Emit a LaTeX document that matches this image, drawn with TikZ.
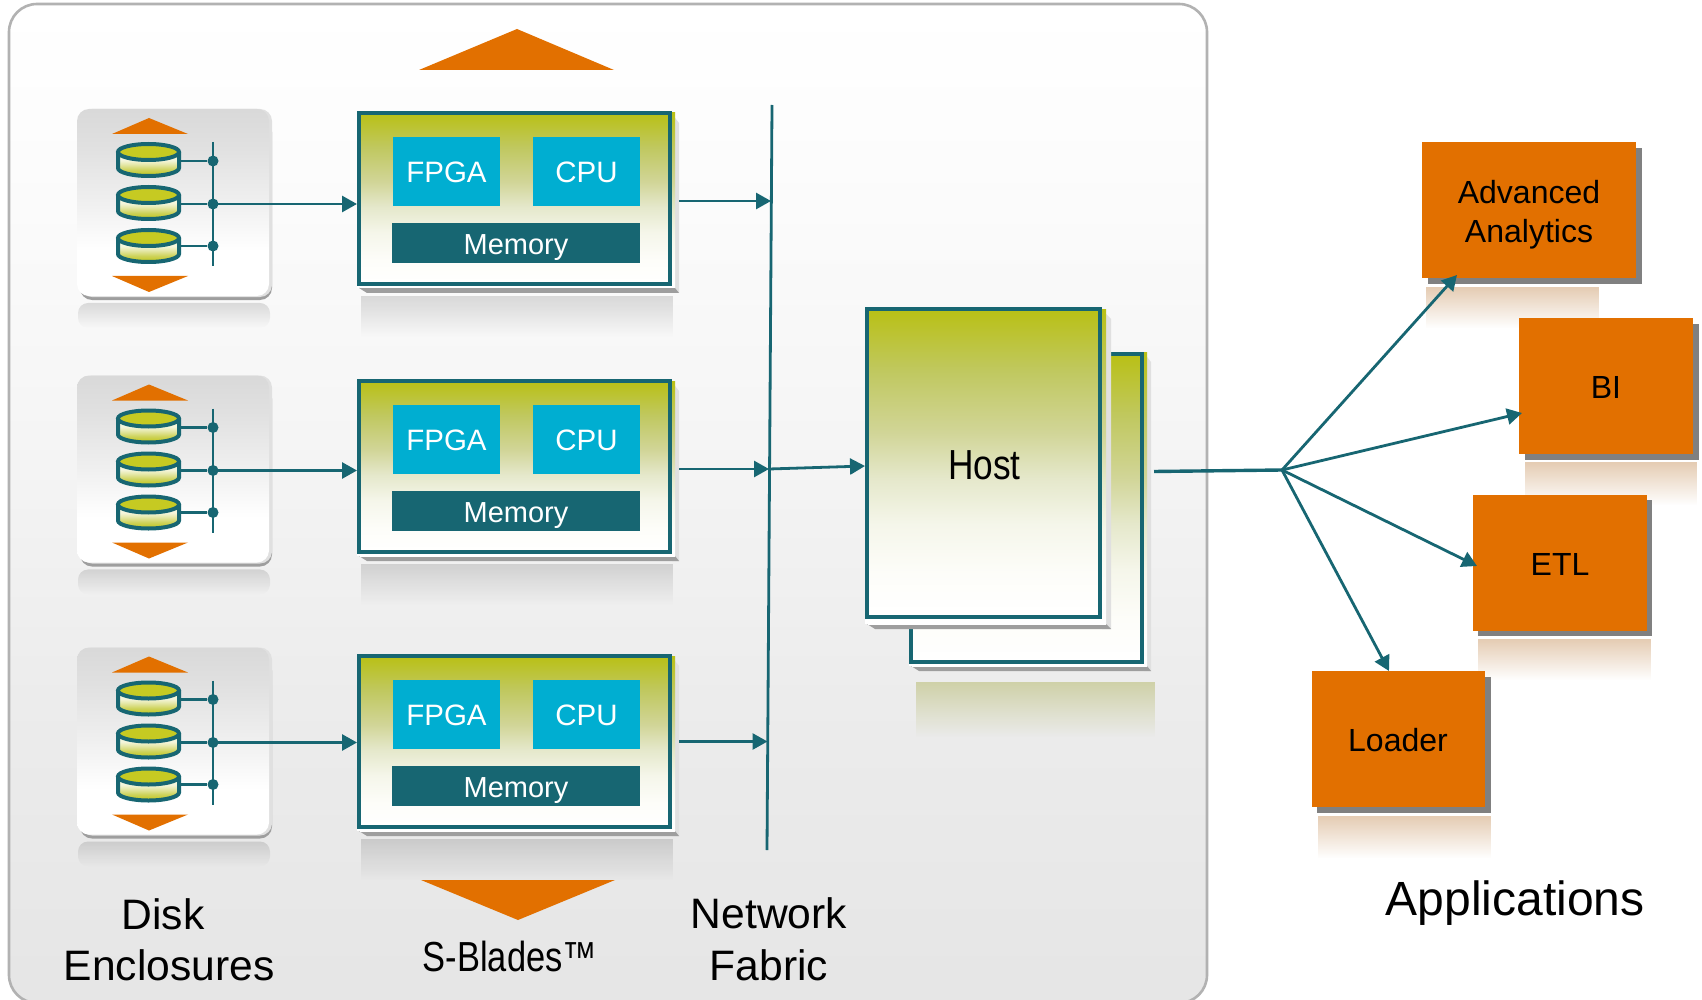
\documentclass[tikz,border=0pt]{standalone}
\usepackage{fontspec}
\usepackage{graphicx}
\setmainfont{Liberation Sans}
\usetikzlibrary{arrows.meta,calc,fadings}
\definecolor{tealc}{HTML}{176672}
\definecolor{orangec}{HTML}{E27000}
\definecolor{cyanc}{HTML}{00AED1}
\definecolor{olivec}{HTML}{B9C015}
\definecolor{olivetop}{HTML}{C6CA22}
\definecolor{oreflc}{HTML}{E5CCB3}
\definecolor{hreflc}{HTML}{CFD1A8}
\definecolor{gA}{HTML}{C0C85F}
\definecolor{gB}{HTML}{D1D597}
\definecolor{gC}{HTML}{E5E8CB}
\definecolor{gD}{HTML}{F5F6EA}
\definecolor{gE}{HTML}{FDFDF9}
\pgfdeclareverticalshading{bladeshade}{100bp}{
  color(0bp)=(white); color(25bp)=(white); color(32bp)=(gE);
  color(40bp)=(gD); color(47.5bp)=(gC); color(55bp)=(gB);
  color(65bp)=(gA); color(75bp)=(olivec); color(100bp)=(olivec)}
\pgfdeclareverticalshading{panelshade}{100bp}{
  color(0bp)=(black!10); color(25bp)=(black!10); color(40bp)=(black!7.5);
  color(55bp)=(black!3.5); color(68bp)=(black!1); color(75bp)=(white); color(100bp)=(white)}
\pgfdeclareverticalshading{diskshade}{100bp}{
  color(0bp)=(white); color(25bp)=(white); color(37bp)=(white); color(50bp)=(black!6);
  color(65bp)=(black!12); color(75bp)=(black!15); color(100bp)=(black!15)}
\pgfdeclareverticalshading{cylshade}{100bp}{
  color(0bp)=(olivec!90!yellow); color(25bp)=(olivec!90!yellow); color(38bp)=(white!30!olivec);
  color(50bp)=(white!65!olivec); color(58bp)=(white!85!olivec); color(100bp)=(white!85!olivec)}
\tikzfading[name=reflfade,top color=transparent!0,middle color=transparent!12,bottom color=transparent!100]
\tikzset{
  x=1pt,y=-1pt,
  conn/.style={draw=tealc,line width=2.8pt},
  arr/.style={conn,-{Triangle[length=15pt,width=16pt]}},
  lab/.style={inner sep=0pt,outer sep=0pt,text height=#1,text depth=0pt},
  bladebox/.style={rectangle,draw=tealc,line width=4pt,shading=bladeshade,minimum width=311pt,minimum height=171pt,inner sep=0pt},
  hostbox/.style={rectangle,draw=tealc,line width=4pt,shading=bladeshade,minimum width=#1,minimum height=308pt,inner sep=0pt},
  chip/.style={rectangle,fill=cyanc,text=white,font=\fontsize{29.5}{34}\selectfont,minimum width=107pt,minimum height=69pt,inner sep=0pt,text height=22.5pt,text depth=0pt},
  membox/.style={rectangle,fill=tealc,text=white,font=\fontsize{29}{34}\selectfont,minimum width=248pt,minimum height=40pt,inner sep=0pt,text height=23pt,text depth=0pt},
  appbox/.style={rectangle,fill=orangec,minimum width=#1,minimum height=136pt,inner sep=0pt},
  applab/.style={lab=23pt,font=\fontsize{32}{38}\selectfont},
  biglab/.style={lab=30pt,font=\fontsize{42.6}{50}\selectfont},
  dotn/.style={circle,fill=tealc,minimum size=11pt,inner sep=0pt},
  refl/.style={path fading=reflfade},
  lightsh/.style={fill=black!12},
  darksh/.style={fill=black!38}
}
% x1 y1 x2 y2 (outer edges), flag for the larger depth
\newcommand{\slabshadow}[5]{%
  \fill[lightsh] (#3,#2+3) -- (#3+7+2*#5,#2+12) -- (#3+7+2*#5,#4+7+3*#5) -- (#3,#4+7+3*#5) -- cycle;
  \fill[white] (#1,#4) rectangle (#3+3+#5,#4+2+3*#5);
  \fill[darksh] (#1+2,#4+2+3*#5) -- (#3+3+#5,#4+2+3*#5) -- (#3+7+2*#5,#4+7+3*#5) -- (#1+10,#4+7+3*#5) -- cycle;
  \path[shading=bladeshade] (#1+3,#2+2) rectangle (#3+3+#5,#4+2+3*#5);
}
\newcommand{\cylshape}[1]{%
  \path[shading=cylshade] (118,#1) -- (118,#1+16) arc[start angle=180,end angle=0,x radius=30.5,y radius=8] -- (179,#1) -- cycle;
  \draw[tealc,line width=4pt] (118,#1) -- (118,#1+16) arc[start angle=180,end angle=0,x radius=30.5,y radius=8] -- (179,#1);
  \fill[olivetop] (148.5,#1) ellipse[x radius=30.5,y radius=8];
  \draw[tealc,line width=4pt] (148.5,#1) ellipse[x radius=30.5,y radius=8];
}
\begin{document}
\begin{tikzpicture}
\useasboundingbox (0,0) rectangle (1702,1000);
\fill[white] (0,0) rectangle (1702,1000);
% panel
\path[shading=panelshade,rounded corners=28pt] (9,4) rectangle (1207,1003);
\draw[black!30,line width=2.6pt,rounded corners=28pt] (9,4) rectangle (1207,1003);

% big triangles
\fill[orangec] (517,29) -- (614,70) -- (419,70) -- cycle;
\fill[orangec] (518,920) -- (615,880) -- (421,880) -- cycle;

% network fabric
\coordinate (netN) at (772,105);
\coordinate (netS) at (767,850);
\draw[conn] (netN) -- (netS);
\coordinate (net1) at (771,201);
\coordinate (net2) at (769,469);
\coordinate (net3) at (767.5,741.5);

% rows
\foreach \r/\dy/\by/\sh in {1/0/0/2.5,2/266.5/268/2.5,3/538.5/543/0}{
  % disk enclosure
  \begin{scope}[shift={(0,\dy)}]
    \fill[black,opacity=.12,refl,rounded corners=10pt] (78,328) -- (78,303) -- (270,303) -- (270,328) -- cycle;
    \fill[black!38,rounded corners=12pt] (80,120) rectangle (272,300);
    \fill[black!12,rounded corners=12pt] (80,109) rectangle (272,297);
    \path[shading=diskshade,rounded corners=12pt] (77,109) rectangle (269,296);
    \fill[orangec] (149,118) -- (188,134) -- (112,134) -- cycle;
    \fill[orangec] (149,292) -- (188,276) -- (112,276) -- cycle;
    \cylshape{152}
    \cylshape{195}
    \cylshape{238}
    \coordinate (cy\r a) at (179,161);
    \coordinate (cy\r b) at (179,204);
    \coordinate (cy\r c) at (179,246);
    \node[dotn] (dot\r a) at (213,161) {};
    \node[dotn] (dot\r b) at (213,204) {};
    \node[dotn] (dot\r c) at (213,246) {};
    \coordinate (bus\r t) at (213,142);
    \coordinate (bus\r e) at (213,266);
    \draw[conn] (bus\r t) -- (bus\r e);
    \draw[conn] (cy\r a) -- (dot\r a);
    \draw[conn] (cy\r b) -- (dot\r b);
    \draw[conn] (cy\r c) -- (dot\r c);
  \end{scope}
  % s-blade
  \begin{scope}[shift={(0,\by)}]
    \fill[black,opacity=.13,refl] (361,296) rectangle (673,337);
    \slabshadow{357}{111}{672}{286}{0}
    \node[bladebox] (blade\r) at (514.5,198.5) {};
    \node[chip] (fpga\r) at (446.5,171.5) {FPGA};
    \node[chip] (cpu\r) at (586.5,171.5) {CPU};
    \node[membox] (mem\r) at (516,243) {Memory};
  \end{scope}
  \draw[arr] (dot\r b.center) -- (blade\r.west |- dot\r b);
  \draw[arr] ([shift={(7,\sh)}]blade\r.east) -- (net\r);
}

% host
\fill[hreflc,refl] (916,682) rectangle (1155,737);
\slabshadow{909}{350}{1144}{664}{0}
\node[hostbox=231pt] (hostb) at (1026.5,508) {};
\slabshadow{865}{307}{1102}{619}{1}
\node[hostbox=233pt] (hostf) at (983.5,463) {};
\node[lab=30pt,font=\fontsize{42}{50}\selectfont] (hostl) at (984.5,464) {\scalebox{.84}[1]{Host}};
\draw[arr] (net2) -- ([yshift=-3pt]hostf.west);

% applications
\fill[oreflc,refl] (1426,287) rectangle (1599,328);
\fill[oreflc,refl] (1525,462) rectangle (1697,505);
\fill[oreflc,refl] (1478,639) rectangle (1651,680);
\fill[oreflc,refl] (1318,816) rectangle (1491,858);
\fill[black!50] (1428,148) rectangle (1642,284);
\fill[black!50] (1525,324) rectangle (1699,460);
\fill[black!50] (1478,500) rectangle (1652,636);
\fill[black!50] (1317,677) rectangle (1491,813);
\node[appbox=214pt] (aa) at (1529,210) {};
\node[appbox=174pt] (bi) at (1606,386) {};
\node[appbox=174pt] (etl) at (1560,563) {};
\node[appbox=173pt] (loader) at (1398,739) {};
\node[applab] (aal1) at (1529,192) {Advanced};
\node[applab] (aal2) at (1529,231) {Analytics};
\node[applab] (bil) at (1606,387) {BI};
\node[applab] (etll) at (1560,564) {ETL};
\node[applab] (loaderl) at (1398,740) {Loader};

% fan out
\coordinate (hostout) at (1154,471.5);
\coordinate (hub) at (1282,470);
\coordinate (aain) at (1457,275);
\coordinate (biin) at (1522,413);
\coordinate (etlin) at (1477,566);
\coordinate (loadin) at (1389,671);
\draw[conn,line width=3.4pt] (hostout) -- (hub);
\draw[arr] (hub) -- (aain);
\draw[arr] (hub) -- (biin);
\draw[arr] (hub) -- (etlin);
\draw[arr] (hub) -- (loadin);

% captions
\node[biglab] (cap1) at (163,914) {Disk};
\node[biglab] (cap2) at (169,965) {Enclosures};
\node[lab=30pt,font=\fontsize{42}{50}\selectfont] (cap3) at (510,956) {\scalebox{.82}[1]{S-Blades™}};
\node[biglab] (cap4) at (769,913) {Network};
\node[biglab] (cap5) at (769,965) {Fabric};
\node[lab=34pt,font=\fontsize{48}{56}\selectfont] (cap6) at (1515,898) {Applications};
\end{tikzpicture}
\end{document}
